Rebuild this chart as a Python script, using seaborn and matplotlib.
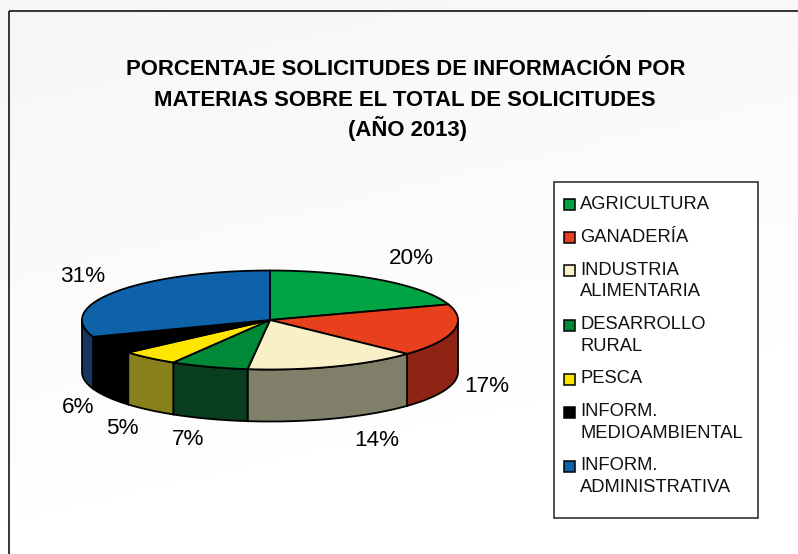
import matplotlib
matplotlib.use("Agg")
import matplotlib.pyplot as plt
from matplotlib.patches import Rectangle
import numpy as np
import seaborn as sns

sns.set_style("white")
plt.rcParams['font.family'] = ['Liberation Sans', 'DejaVu Sans']

title_lines = ["PORCENTAJE SOLICITUDES DE INFORMACIÓN POR",
               "MATERIAS SOBRE EL TOTAL DE SOLICITUDES",
               "(AÑO 2013)"]
title_pos = [(406, 75), (405, 106), (408, 136)]
categories = ["AGRICULTURA", "GANADERÍA", "INDUSTRIA\nALIMENTARIA", "DESARROLLO\nRURAL",
              "PESCA", "INFORM.\nMEDIOAMBIENTAL", "INFORM.\nADMINISTRATIVA"]
# slice sizes, the printed labels are rounded
values = [19.9, 17.1, 14.9, 6.7, 5.0, 5.9, 30.5]
pct_labels = ["20%", "17%", "14%", "7%", "5%", "6%", "31%"]
top_colors = ["#00a444", "#e8401c", "#faf0c8", "#008a38", "#ffe600", "#000000", "#0e62aa"]
side_colors = ["#005a25", "#8f2415", "#80806a", "#083d1e", "#88801a", "#000000", "#18355f"]
label_pos = [(411, 259), (487, 386.5), (377, 440.5), (188, 439.5), (122, 428.5), (78, 407.5), (83, 276.5)]

# pie geometry in pixels
cx, cy, rx, ry, depth = 270, 320, 188, 49.5, 52


def ell(a):
    return cx + rx * np.sin(a), cy - ry * np.cos(a)


fig = plt.figure(figsize=(7.98, 5.54), dpi=100)
ax = fig.add_axes([0, 0, 1, 1])
ax.set_xlim(0, 798)
ax.set_ylim(554, 0)
ax.axis("off")

# soft diagonal background
yy, xx = np.mgrid[0:1:120j, 0:1:160j]
grad = np.clip(0.962 + 0.04 * (xx * 0.3 + yy * 0.9), 0, 1)
ax.imshow(grad, extent=(0, 798, 554, 0), cmap="gray", vmin=0, vmax=1, aspect="auto", zorder=0)
# frame runs off the right and bottom of the crop
ax.add_patch(Rectangle((8.5, 10.5), 800, 560, fill=False, ec="black", lw=1.1, zorder=1))

edges = np.radians(np.cumsum([0] + values) * 3.6)

# side walls, only the front half of the cake shows
for i in range(len(values)):
    a0, a1 = max(edges[i], np.pi / 2), min(edges[i + 1], 1.5 * np.pi)
    if a1 <= a0:
        continue
    a = np.linspace(a0, a1, 80)
    x, y = ell(a)
    ax.fill(np.r_[x, x[::-1]], np.r_[y, y[::-1] + depth], fc=side_colors[i], ec="black", lw=1.3, zorder=2)

# top faces
for i in range(len(values)):
    a = np.linspace(edges[i], edges[i + 1], 120)
    x, y = ell(a)
    ax.fill(np.r_[cx, x], np.r_[cy, y], fc=top_colors[i], ec="black", lw=1.3, joinstyle="round", zorder=3)

for lab, (x, y) in zip(pct_labels, label_pos):
    ax.text(x, y, lab, fontsize=16.2, ha="center", va="center", color="black", zorder=4)

for line, (x, y) in zip(title_lines, title_pos):
    ax.text(x, y, line, fontsize=15.9, fontweight="bold", ha="center", va="baseline", color="black", zorder=4)

# legend by hand: swatches sit on the first line of each entry, ax.legend centres them
ax.add_patch(Rectangle((553.5, 181.5), 204.5, 336, fc="white", ec="#222222", lw=1.1, zorder=4))
base = 208.6
for cat, c in zip(categories, top_colors):
    ax.add_patch(Rectangle((563.5, base - 9.5), 11, 11, fc=c, ec="black", lw=1.1, zorder=5))
    parts = cat.split("\n")
    for j, part in enumerate(parts):
        ax.text(580, base + j * 21.7, part, fontsize=13.2, va="baseline", ha="left", color="#111111", zorder=5)
    base += 33.1 + 21.1 * (len(parts) - 1)

fig.savefig("out.png", dpi=100)
